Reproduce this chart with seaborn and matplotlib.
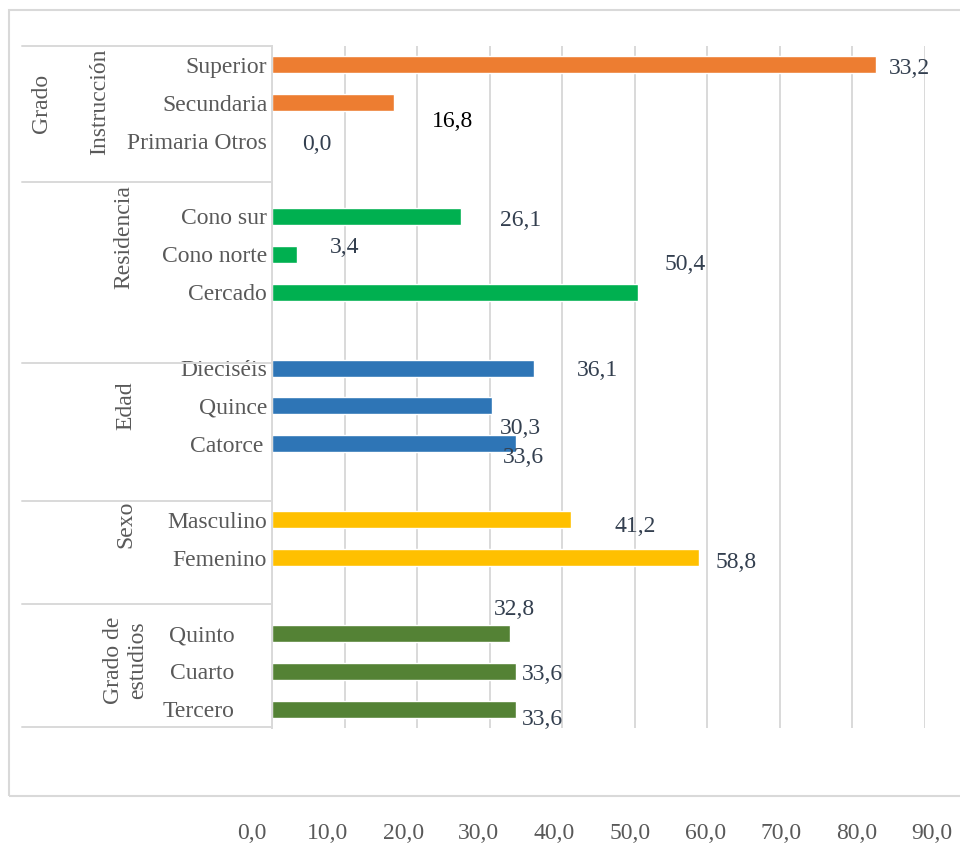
import numpy as np
import pandas as pd
import matplotlib.pyplot as plt
from matplotlib.lines import Line2D
from matplotlib.patches import Rectangle
from matplotlib.transforms import ScaledTranslation
import seaborn as sns

sns.set_style("white")
plt.rcParams['font.family'] = ['Liberation Serif', 'DejaVu Serif']

# ------------------------------------------------------------
# DATA
# ------------------------------------------------------------
grupos = ['Grado Instrucción', 'Residencia', 'Edad', 'Sexo', 'Grado de estudios']
categorias = [
    ['Superior', 'Secundaria', 'Primaria Otros'],
    ['Cono sur', 'Cono norte', 'Cercado'],
    ['Dieciséis', 'Quince', 'Catorce'],
    ['Masculino', 'Femenino'],
    ['Quinto', 'Cuarto', 'Tercero'],
]
valores = [
    [83.2, 16.8, 0.0],
    [26.1, 3.4, 50.4],
    [36.1, 30.3, 33.6],
    [41.2, 58.8],
    [32.8, 33.6, 33.6],
]
# data labels as printed in the original (note the "33,2" on Superior)
etiquetas = [
    ['33,2', '16,8', '0,0'],
    ['26,1', '3,4', '50,4'],
    ['36,1', '30,3', '33,6'],
    ['41,2', '58,8'],
    ['32,8', '33,6', '33,6'],
]
colores = ['#ED7D31', '#00B050', '#2E75B6', '#FFC000', '#548235']
xticks = [0, 10, 20, 30, 40, 50, 60, 70, 80, 90]

# label offsets in pixels (dx, dy) relative to the bar end -- layout only
offsets = [
    [(13, -4), (38, -19), (30, -4)],
    [(39, -4), (33, 7), (27, 28)],
    [(43, -2), (8, -23), (-13, -14)],
    [(44, -7), (17, -5)],
    [(-16, 24), (6, -3), (6, -10)],
]

rows = []
order = []
for gi, g in enumerate(grupos):
    for c, v in zip(categorias[gi], valores[gi]):
        rows.append({'grupo': g, 'categoria': c, 'valor': v})
        order.append(c)
    if gi < len(grupos) - 1:
        order.append(' ' * (gi + 1))  # empty slot between groups
df = pd.DataFrame(rows)

W, H = 960, 847
fig = plt.figure(figsize=(W / 100, H / 100), dpi=100)


def fx(px):
    return px / W


def fy(py):
    return 1 - py / H


# ------------------------------------------------------------
# MAIN BAR CHART
# ------------------------------------------------------------
ax = fig.add_axes([fx(272), fy(728), fx(925) - fx(272), fy(46) - fy(728)])
sns.barplot(data=df, x='valor', y='categoria', hue='grupo', order=order,
            hue_order=grupos, palette=colores, dodge=False, width=0.45,
            legend=False, saturation=1, ax=ax)

ax.set_xlim(0, 90)
ax.set_xticks(xticks)
ax.set_xticklabels([])
ax.tick_params(axis='x', length=0)
ax.grid(axis='x', color='#d9d9d9', linewidth=1.4)
ax.set_axisbelow(True)
ax.set_xlabel('')
ax.set_ylabel('')
for s in ['top', 'right', 'bottom']:
    ax.spines[s].set_visible(False)
ax.spines['left'].set_color('#d9d9d9')
ax.spines['left'].set_linewidth(1.4)

ax.tick_params(axis='y', length=0, pad=3.5, labelsize=17, labelcolor='#595959')
for lab in ax.get_yticklabels():
    t = lab.get_text()
    if t in ['Quinto', 'Cuarto', 'Tercero']:
        lab.set_transform(lab.get_transform() + ScaledTranslation(-0.33, 0, fig.dpi_scale_trans))
    elif t == 'Catorce':
        lab.set_transform(lab.get_transform() + ScaledTranslation(-0.04, 0, fig.dpi_scale_trans))

# data labels
for gi in range(len(grupos)):
    for c, v, txt, (dx, dy) in zip(categorias[gi], valores[gi], etiquetas[gi], offsets[gi]):
        ypos = order.index(c)
        col = 'black' if txt == '16,8' else '#333f4f'
        ax.annotate(txt, xy=(v, ypos), xytext=(dx, dy), textcoords='offset pixels',
                    ha='left', va='center', fontsize=17, color=col,
                    annotation_clip=False)

# ------------------------------------------------------------
# GROUP LABELS AND SEPARATORS ON THE LEFT
# ------------------------------------------------------------
for py in [46, 182, 363, 501, 604, 727]:
    fig.add_artist(Line2D([fx(22), fx(272)], [fy(py), fy(py)],
                          color='#d9d9d9', linewidth=1.4))

grp_txt = [
    ('Grado', 42, 103),
    ('Instrucción', 100, 102),
    ('Residencia', 124, 237),
    ('Edad', 126, 406),
    ('Sexo', 126, 524),
    ('Grado de\nestudios', 126, 660),
]
for txt, px, py in grp_txt:
    fig.text(fx(px), fy(py), txt, rotation=90, ha='center', va='center',
             fontsize=17, color='#595959', linespacing=1.2)

# ------------------------------------------------------------
# OUTER FRAME AND THE (SHIFTED) X TICK LABELS BELOW IT
# ------------------------------------------------------------
fig.add_artist(Rectangle((fx(9), fy(796)), fx(980) - fx(9), fy(10) - fy(796),
                         transform=fig.transFigure, fill=False,
                         edgecolor='#d9d9d9', linewidth=1.5))

ax2 = fig.add_axes([fx(252), fy(823), fx(932) - fx(252), 0.001])
ax2.set_xlim(0, 90)
ax2.set_xticks(xticks)
ax2.set_xticklabels([f"{t:.1f}".replace('.', ',') for t in xticks])
ax2.set_yticks([])
ax2.tick_params(axis='x', length=0, pad=0, labelsize=17, labelcolor='#595959')
for s in ax2.spines.values():
    s.set_visible(False)
ax2.patch.set_alpha(0)

plt.savefig("out.png", dpi=100)
